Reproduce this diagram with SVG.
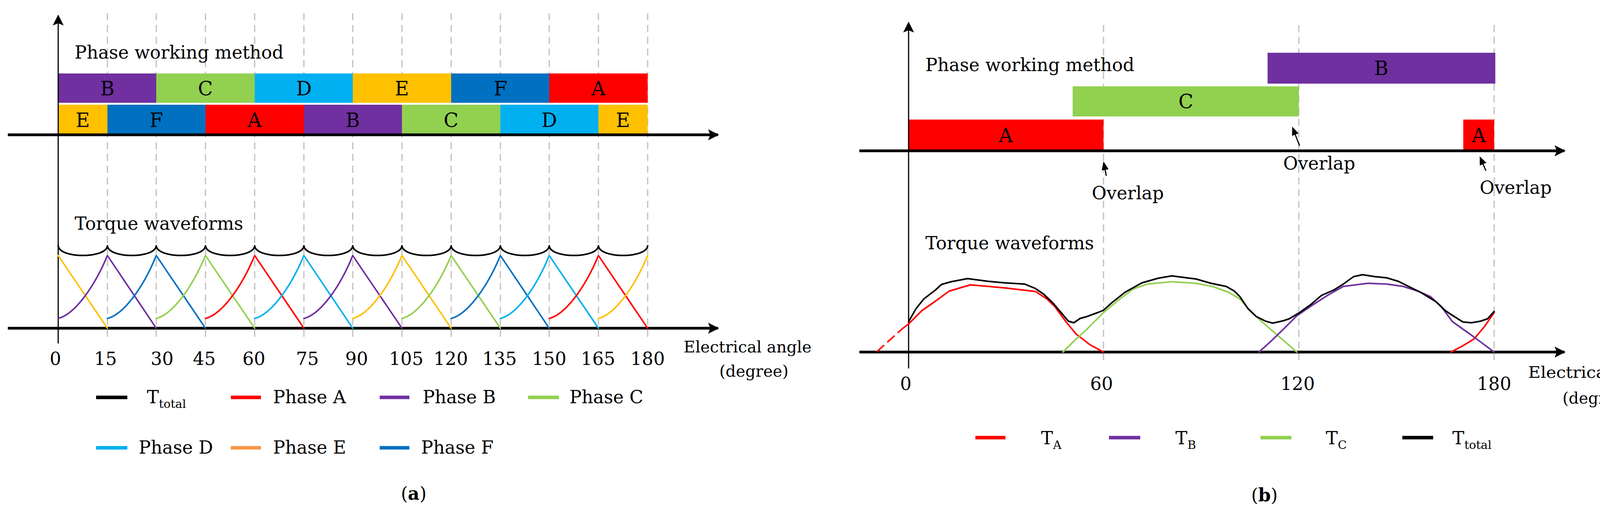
<svg xmlns="http://www.w3.org/2000/svg" width="4286" height="1318" viewBox="0 0 4286 1318">
<style>
text{font-family:"DejaVu Serif","Liberation Serif",serif;font-size:46px;fill:#000}
.c{text-anchor:middle}
.bl{font-size:50px}
.ea{font-size:41px}
.ax{stroke:#000;stroke-width:7;fill:none}
.ay{stroke:#000;stroke-width:3;fill:none}
.g{stroke:#BFBFBF;stroke-width:3;stroke-dasharray:18 12;fill:none}
.w{fill:none;stroke-width:4;stroke-linejoin:round;stroke-linecap:round}
.A{stroke:#FF0000}.B{stroke:#7030A0}.C{stroke:#92D050}.D{stroke:#00B0F0}.E{stroke:#FFC000}.F{stroke:#0070C0}.K{stroke:#000}
.fA{fill:#FF0000}.fB{fill:#7030A0}.fC{fill:#92D050}.fD{fill:#00B0F0}.fE{fill:#FFC000}.fF{fill:#0070C0}
.lg{stroke-width:9}
</style>
<defs>
<marker id="big" viewBox="0 0 10 10" refX="9" refY="5" markerWidth="28" markerHeight="28" markerUnits="userSpaceOnUse" orient="auto"><path d="M0,0 L10,5 L0,10 L2,5 z" fill="#000"/></marker>
</defs>
<rect width="4286" height="1318" fill="#fff"/>
<g id="panelA">
<g id="gridA">
<path class="g" d="M275 34V866M400 34V866M526 34V866M652 34V866M778 34V866M903 34V866M1029 34V866M1155 34V866M1281 34V866M1406 34V866M1532 34V866M1658 34V866"/>
</g>
<g id="barsA">
<rect class="fB" x="149" y="188" width="251" height="75"/><rect class="fC" x="400" y="188" width="252" height="75"/><rect class="fD" x="652" y="188" width="251" height="75"/><rect class="fE" x="903" y="188" width="252" height="75"/><rect class="fF" x="1155" y="188" width="251" height="75"/><rect class="fA" x="1406" y="188" width="252" height="75"/>
<rect class="fE" x="149" y="268" width="126" height="77"/><rect class="fF" x="275" y="268" width="251" height="77"/><rect class="fA" x="526" y="268" width="252" height="77"/><rect class="fB" x="778" y="268" width="251" height="77"/><rect class="fC" x="1029" y="268" width="252" height="77"/><rect class="fD" x="1281" y="268" width="251" height="77"/><rect class="fE" x="1532" y="268" width="126" height="77"/>
<text class="c bl" x="275" y="244">B</text><text class="c bl" x="526" y="244">C</text><text class="c bl" x="778" y="244">D</text><text class="c bl" x="1029" y="244">E</text><text class="c bl" x="1281" y="244">F</text><text class="c bl" x="1532" y="244">A</text>
<text class="c bl" x="212" y="325">E</text><text class="c bl" x="400" y="325">F</text><text class="c bl" x="652" y="325">A</text><text class="c bl" x="903" y="325">B</text><text class="c bl" x="1155" y="325">C</text><text class="c bl" x="1406" y="325">D</text><text class="c bl" x="1595" y="325">E</text>
</g>
<g id="axesA">
<path class="ay" d="M149 879V40" marker-end="url(#big)"/>
<path class="ax" d="M20 345H1838" marker-end="url(#big)"/>
<path class="ax" d="M20 840H1838" marker-end="url(#big)"/>
</g>
<text x="191" y="150">Phase working method</text>
<text x="191" y="588">Torque waveforms</text>
<g id="wavesA">
<path class="w E" d="M149 654L275 840"/>
<path class="w B" d="M149 815C189 805 239 740 275 654L400 840"/>
<path class="w F" d="M275 815C315 805 365 740 400 654L526 840"/>
<path class="w C" d="M400 815C440 805 490 740 526 654L652 840"/>
<path class="w A" d="M526 815C566 805 616 740 652 654L778 840"/>
<path class="w D" d="M652 815C692 805 742 740 778 654L903 840"/>
<path class="w B" d="M778 815C818 805 868 740 903 654L1029 840"/>
<path class="w E" d="M903 815C943 805 993 740 1029 654L1155 840"/>
<path class="w C" d="M1029 815C1069 805 1119 740 1155 654L1281 840"/>
<path class="w F" d="M1155 815C1195 805 1245 740 1281 654L1406 840"/>
<path class="w D" d="M1281 815C1321 805 1371 740 1406 654L1532 840"/>
<path class="w A" d="M1406 815C1446 805 1496 740 1532 654L1658 840"/>
<path class="w E" d="M1532 815C1572 805 1622 740 1658 654"/>
<path class="w K" d="M149 629C152 662 272 662 275 629C278 662 397 662 400 629C403 662 523 662 526 629C529 662 649 662 652 629C655 662 775 662 778 629C781 662 900 662 903 629C906 662 1026 662 1029 629C1032 662 1152 662 1155 629C1158 662 1278 662 1281 629C1284 662 1403 662 1406 629C1409 662 1529 662 1532 629C1535 662 1655 662 1658 629"/>
</g>
<g id="ticksA">
<text class="c" x="142" y="934">0</text><text class="c" x="270" y="934">15</text><text class="c" x="415" y="934">30</text><text class="c" x="523" y="934">45</text><text class="c" x="650" y="934">60</text><text class="c" x="787" y="934">75</text><text class="c" x="913" y="934">90</text><text class="c" x="1040" y="934">105</text><text class="c" x="1154" y="934">120</text><text class="c" x="1279" y="934">135</text><text class="c" x="1406" y="934">150</text><text class="c" x="1531" y="934">165</text><text class="c" x="1658" y="934">180</text>
<text class="ea" x="1750" y="902">Electrical angle</text>
<text class="c ea" x="1930" y="964">(degree)</text>
</g>
<g id="legendA">
<path class="lg K" d="M246 1017H326"/><text x="376" y="1032">T<tspan dy="12" font-size="30">total</tspan></text>
<path class="lg A" d="M591 1017H668"/><text x="699" y="1032">Phase A</text>
<path class="lg B" d="M972 1017H1048"/><text x="1082" y="1032">Phase B</text>
<path class="lg C" d="M1352 1017H1431"/><text x="1458" y="1032">Phase C</text>
<path class="lg D" d="M246 1146H326"/><text x="355" y="1161">Phase D</text>
<path class="lg" stroke="#F79646" d="M591 1146H668"/><text x="699" y="1161">Phase E</text>
<path class="lg F" d="M972 1146H1048"/><text x="1078" y="1161">Phase F</text>
</g>
<text class="c" x="1059" y="1279" font-size="56">(<tspan font-weight="bold">a</tspan>)</text>
</g>
<g id="panelB">
<g id="gridB"><path class="g" d="M2825 64V930M3325 64V930M3825 64V930"/></g>
<g id="barsB">
<rect class="fA" x="2326" y="306" width="499" height="80"/>
<rect class="fC" x="2746" y="221" width="579" height="77"/>
<rect class="fB" x="3245" y="135" width="583" height="79"/>
<rect class="fA" x="3746" y="306" width="79" height="80"/>
<text class="c bl" x="2575" y="364">A</text><text class="c bl" x="3036" y="277">C</text><text class="c bl" x="3536" y="192">B</text><text class="c bl" x="3786" y="364">A</text>
</g>
<g id="axesB">
<path class="ay" d="M2326 943V58" marker-end="url(#big)"/>
<path class="ax" d="M2200 386H4005" marker-end="url(#big)"/>
<path class="ax" d="M2200 901H4005" marker-end="url(#big)"/>
</g>
<text x="2369" y="182">Phase working method</text>
<text x="2369" y="638">Torque waveforms</text>
<g id="overlaps">
<path class="ay" stroke-width="4" d="M2832 450L2828 428"/>
<polygon points="2825,413 2837.9,432.9 2820.3,436.3" fill="#000"/>
<path class="ay" stroke-width="4" d="M3327 373L3314 340"/>
<polygon points="3308,324 3324.3,341.3 3307.5,347.7" fill="#000"/>
<path class="ay" stroke-width="4" d="M3804 437L3794 414"/>
<polygon points="3788,400 3805,416.6 3788.4,423.8" fill="#000"/>
<text x="2795" y="510">Overlap</text>
<text x="3285" y="434">Overlap</text>
<text x="3788" y="496">Overlap</text>
</g>
<g id="wavesB">
<path class="w A" stroke-dasharray="22 14" d="M2246 899L2309 842"/>
<polyline class="w A" points="2309,842 2326,829 2360,795 2393,772 2430,745 2484,729 2530,733 2574,737 2651,746 2680,765 2700,784 2730,825 2755,855 2790,882 2825,901"/>
<polyline class="w A" points="3714,901 3745,885 3774,867 3800,836 3825,800"/>
<polyline class="w C" points="2721,901 2750,872 2783,842 2825,800 2867,765 2900,740 2937,727 3000,721 3060,725 3104,733 3145,748 3174,765 3200,795 3230,823 3275,862 3320,901"/>
<polyline class="w B" points="3223,901 3255,872 3286,842 3320,808 3355,784 3400,755 3439,733 3502,725 3550,727 3592,733 3630,745 3662,759 3690,785 3718,823 3770,860 3825,901"/>
<polyline class="w K" points="2326,823 2345,790 2365,765 2395,742 2410,728 2435,721 2477,713 2530,720 2574,724 2623,727 2650,738 2672,753 2695,775 2714,797 2735,822 2749,826 2765,815 2783,810 2810,800 2825,794 2846,775 2880,748 2923,724 2965,712 3000,706 3030,710 3062,714 3100,725 3139,733 3160,745 3174,759 3195,790 3216,810 3240,822 3258,827 3285,821 3300,816 3327,800 3355,780 3383,756 3415,742 3439,727 3465,708 3488,703 3520,708 3550,711 3580,720 3606,733 3640,750 3676,772 3700,795 3718,807 3745,824 3767,826 3790,822 3808,816 3825,797"/>
</g>
<g id="ticksB">
<text class="c" x="2319" y="998">0</text><text class="c" x="2820" y="998">60</text><text class="c" x="3322" y="998">120</text><text class="c" x="3825" y="998">180</text>
<text class="ea" x="3912" y="967" textLength="350" lengthAdjust="spacingAndGlyphs">Electrical angle</text>
<text class="ea" x="4000" y="1033" textLength="175" lengthAdjust="spacingAndGlyphs">(degree)</text>
</g>
<g id="legendB">
<path class="lg A" d="M2497 1120H2574"/><text x="2665" y="1137">T<tspan dy="12" font-size="30">A</tspan></text>
<path class="lg B" d="M2839 1120H2919"/><text x="3009" y="1137">T<tspan dy="12" font-size="30">B</tspan></text>
<path class="lg C" d="M3227 1120H3306"/><text x="3394" y="1137">T<tspan dy="12" font-size="30">C</tspan></text>
<path class="lg K" d="M3590 1120H3669"/><text x="3718" y="1137">T<tspan dy="12" font-size="30">total</tspan></text>
</g>
<text class="c" x="3237" y="1283" font-size="56">(<tspan font-weight="bold">b</tspan>)</text>
</g>
</svg>
